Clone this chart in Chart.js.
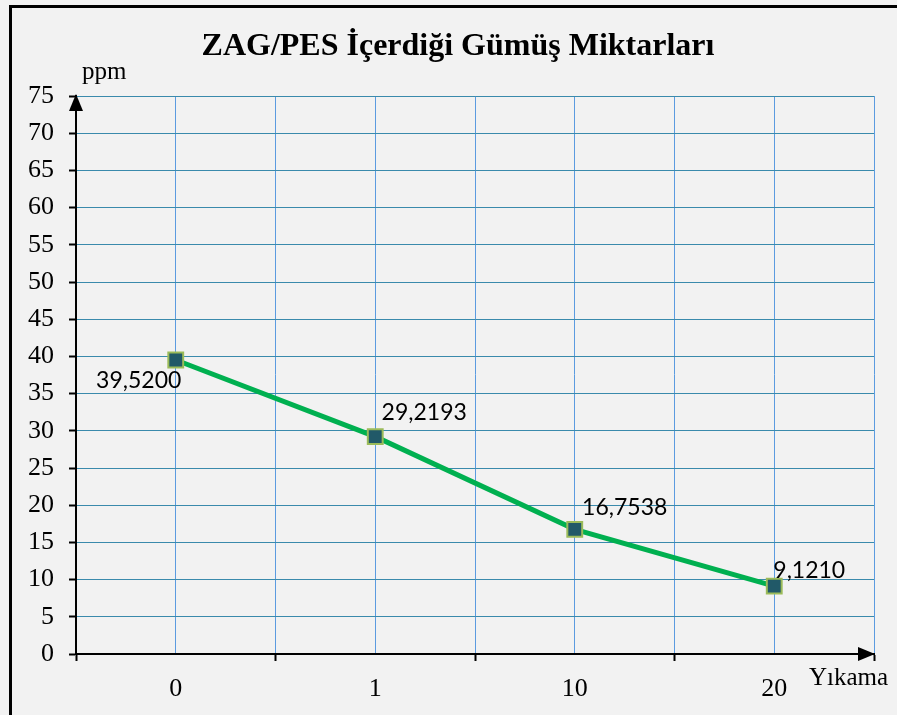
<!DOCTYPE html>
<html>
<head>
<meta charset="utf-8">
<script src="https://cdn.jsdelivr.net/npm/chart.js@4.4.0/dist/chart.umd.min.js"></script>
<style>
html,body{margin:0;padding:0;background:#f2f2f2;}
#wrap{width:897px;height:715px;position:relative;}
</style>
</head>
<body>
<div id="wrap"><canvas id="c" width="897" height="715"></canvas></div>
<script>
const categories = ["0", "1", "10", "20"];
const silverPpm = [39.5200, 29.2193, 16.7538, 9.1210];
const yTicks = [0, 5, 10, 15, 20, 25, 30, 35, 40, 45, 50, 55, 60, 65, 70, 75];
const titleText = "ZAG/PES İçerdiği Gümüş Miktarları";
const yAxisTitle = "ppm";
const xAxisTitle = "Yıkama";

const serif = "'Liberation Serif', 'Times New Roman', serif";
const labelOffsets = [[-37, 21], [49, -24], [50, -22], [35, -16]];

const decor = {
  id: 'decor',
  beforeDraw(chart) {
    const ctx = chart.ctx;
    ctx.save();
    ctx.fillStyle = '#f2f2f2';
    ctx.fillRect(0, 0, chart.width, chart.height);
    ctx.fillStyle = '#000';
    ctx.fillRect(9, 5, 3, chart.height - 5);
    ctx.fillRect(9, 5, chart.width - 9, 3);
    ctx.restore();
  },
  afterDraw(chart) {
    const ctx = chart.ctx;
    const a = chart.chartArea;
    ctx.save();
    ctx.fillStyle = '#000';
    ctx.beginPath();
    ctx.moveTo(a.left, a.top - 2);
    ctx.lineTo(a.left - 7, a.top + 15);
    ctx.lineTo(a.left + 7, a.top + 15);
    ctx.closePath();
    ctx.fill();
    ctx.beginPath();
    ctx.moveTo(a.right + 1, a.bottom);
    ctx.lineTo(a.right - 16, a.bottom - 7);
    ctx.lineTo(a.right - 16, a.bottom + 7);
    ctx.closePath();
    ctx.fill();
    ctx.fillStyle = '#000';
    ctx.textAlign = 'center';
    ctx.textBaseline = 'alphabetic';
    ctx.font = "bold 32px " + serif;
    ctx.fillText(titleText, 458, 55);
    ctx.font = "25px " + serif;
    ctx.textAlign = 'left';
    ctx.fillText(yAxisTitle, 82, 79);
    ctx.fillText(xAxisTitle, 809, 685);
    const meta = chart.getDatasetMeta(0);
    ctx.font = "23px Lato, 'Noto Sans', sans-serif";
    ctx.textAlign = 'center';
    ctx.textBaseline = 'middle';
    meta.data.forEach((pt, i) => {
      const v = silverPpm[i].toFixed(4).replace('.', ',');
      const o = labelOffsets[i];
      ctx.fillText(v, pt.x + o[0], pt.y + o[1]);
    });
    ctx.restore();
  }
};

new Chart(document.getElementById('c'), {
  type: 'line',
  data: {
    datasets: [{
      data: silverPpm.map((v, i) => ({x: i, y: v})),
      borderColor: '#00b050',
      borderWidth: 5,
      pointStyle: 'rect',
      pointRadius: 10.5,
      pointBorderWidth: 2,
      pointBorderColor: '#9bbb59',
      pointBackgroundColor: '#215968',
      tension: 0
    }]
  },
  options: {
    responsive: false,
    animation: false,
    layout: {padding: {left: 0, right: 23, top: 96, bottom: 0}},
    plugins: {legend: {display: false}, tooltip: {enabled: false}, title: {display: false}},
    scales: {
      x: {
        type: 'linear',
        min: -0.5,
        max: 3.5,
        afterBuildTicks(s) {
          const t = [];
          for (let k = 0; k <= categories.length * 2; k++) t.push({value: -0.5 + k * 0.5});
          s.ticks = t;
        },
        afterFit(s) { s.height = 61; },
        ticks: {
          autoSkip: false,
          maxRotation: 0,
          padding: 13,
          color: '#000',
          font: {family: serif, size: 26},
          callback: (v) => Number.isInteger(v) ? categories[v] : ''
        },
        grid: {
          color: '#5b9be0',
          lineWidth: 1,
          tickLength: 7,
          tickColor: (c) => (c.tick && !Number.isInteger(c.tick.value)) ? '#000' : 'rgba(0,0,0,0)',
          tickWidth: 2
        },
        border: {color: '#000', width: 2}
      },
      y: {
        type: 'linear',
        min: 0,
        max: 75,
        afterBuildTicks(s) { s.ticks = yTicks.map(v => ({value: v})); },
        afterFit(s) { s.width = 76; },
        ticks: {
          padding: 15,
          color: '#000',
          font: {family: serif, size: 26}
        },
        grid: {
          color: '#3a8aac',
          lineWidth: 1,
          tickLength: 7,
          tickColor: '#000',
          tickWidth: 2
        },
        border: {color: '#000', width: 2}
      }
    }
  },
  plugins: [decor]
});
</script>
</body>
</html>
